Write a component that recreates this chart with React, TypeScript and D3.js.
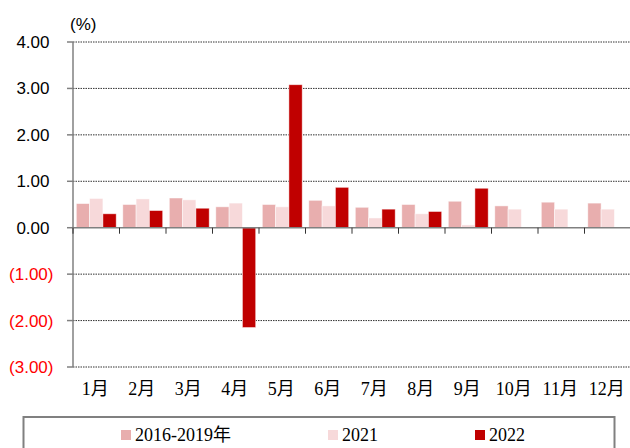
import React from "react";
import * as d3 from "d3";

const months = ["1月", "2月", "3月", "4月", "5月", "6月", "7月", "8月", "9月", "10月", "11月", "12月"];
const s2016_2019 = [0.52, 0.5, 0.64, 0.45, 0.5, 0.59, 0.44, 0.5, 0.57, 0.47, 0.55, 0.53];
const s2021 = [0.63, 0.62, 0.6, 0.53, 0.45, 0.47, 0.21, 0.3, 0.06, 0.4, 0.4, 0.4];
const s2022: (number | null)[] = [0.3, 0.37, 0.42, -2.15, 3.08, 0.87, 0.4, 0.35, 0.85, null, null, null];
const yTicks = [-3, -2, -1, 0, 1, 2, 3, 4];
const seriesNames = ["2016-2019年", "2021", "2022"];
const colors = ["#E8AEAE", "#F7D9DA", "#C00000"];

export default function App() {
  const W = 630, H = 448;
  const left = 73, right = 631, top = 42, bottom = 367;
  const x = d3.scaleBand<string>().domain(months).range([left, right]).paddingInner(0).paddingOuter(0);
  const y = d3.scaleLinear().domain([-3, 4]).range([bottom, top]);
  const inner = d3.scaleBand<number>().domain([0, 1, 2]).range([3.3, x.bandwidth() - 3.3]);
  const all = [s2016_2019, s2021, s2022];
  const fmt = (v: number) => (v < 0 ? `(${Math.abs(v).toFixed(2)})` : v.toFixed(2));
  const sansStyle = { fontFamily: "'Liberation Sans', Arial, sans-serif" };
  const serifStyle = { fontFamily: "'Liberation Serif', 'Noto Sans CJK SC', serif" };
  return (
    <svg width={W} height={H} style={{ position: "absolute", left: 0, top: 0 }}>
      <rect width={W} height={H} fill="#fff" />
      {yTicks.filter((t) => t !== 0).map((t) => (
        <line key={t} x1={left} x2={right} y1={y(t)} y2={y(t)} stroke="#333" strokeWidth={1} strokeDasharray="1.5,1" />
      ))}
      {all.map((s, si) =>
        s.map((v, i) => {
          if (v === null || v === undefined) return null;
          const bx = (x(months[i]) as number) + (inner(si) as number);
          const y0 = y(0), y1 = y(v as number);
          return (
            <rect key={`${si}-${i}`} x={bx} y={Math.min(y0, y1)} width={inner.bandwidth()} height={Math.abs(y1 - y0)}
              fill={colors[si]} stroke="#fff" strokeOpacity={0.6} strokeWidth={0.8} />
          );
        })
      )}
      <line x1={left} x2={left} y1={top} y2={bottom} stroke="#808080" strokeWidth={1.5} />
      {yTicks.map((t) => (
        <line key={`yt${t}`} x1={left - 6} x2={left} y1={y(t)} y2={y(t)} stroke="#808080" strokeWidth={1.5} />
      ))}
      <line x1={left} x2={right} y1={y(0)} y2={y(0)} stroke="#808080" strokeWidth={1.5} />
      {months.map((m, i) => (
        <line key={`xt${m}`} x1={left + i * x.bandwidth()} x2={left + i * x.bandwidth()} y1={y(0)} y2={y(0) + 6} stroke="#333" strokeWidth={1} />
      ))}
      {yTicks.map((t) => (
        <text key={`yl${t}`} x={t < 0 ? 53.5 : 49.5} y={y(t)} dy="0.35em" textAnchor="end" style={{ ...sansStyle, fontSize: "17px" }}
          fill={t < 0 ? "#FF0000" : "#000"}>{fmt(t)}</text>
      ))}
      <text x={70} y={30} style={{ ...sansStyle, fontSize: "17px" }} fill="#000">(%)</text>
      {months.map((m) => (
        <text key={`xl${m}`} x={(x(m) as number) + x.bandwidth() / 2 - 1} y={395} textAnchor="middle" style={{ ...serifStyle, fontSize: "18px" }} fill="#000">{m}</text>
      ))}
      <rect x={23.5} y={417} width={591} height={40} fill="none" stroke="#808080" strokeWidth={2} />
      {[121, 328, 475].map((lx, i) => (
        <g key={`lg${i}`}>
          <rect x={lx} y={430} width={10} height={10} fill={colors[i]} />
          <text x={lx + 14} y={441} style={{ ...serifStyle, fontSize: "18px" }} fill="#000">{seriesNames[i]}</text>
        </g>
      ))}
    </svg>
  );
}
